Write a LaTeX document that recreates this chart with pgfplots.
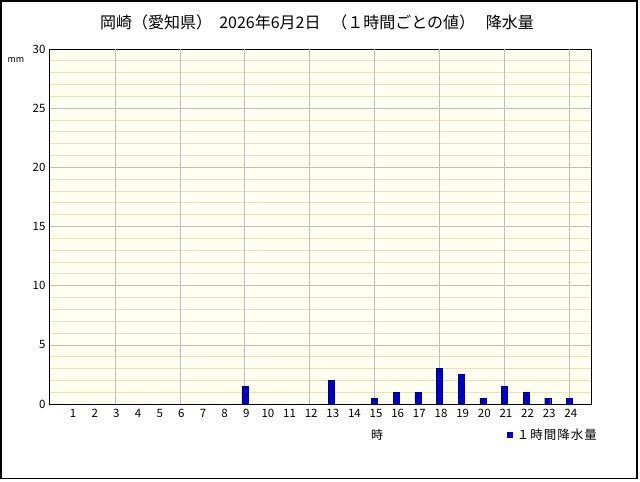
\documentclass[border=0pt]{standalone}
\usepackage{pgfplots}
\pgfplotsset{compat=1.18}
\usepackage{fontspec}
\setmainfont{Noto Sans CJK JP}
\definecolor{barblue}{RGB}{0,0,205}
\definecolor{baredge}{RGB}{0,0,120}
\definecolor{bgcream}{RGB}{255,255,240}
\definecolor{minorg}{RGB}{230,224,196}
\definecolor{majorg}{RGB}{190,190,190}
\begin{document}
\begin{tikzpicture}
\begin{axis}[
  at={(0pt,0pt)}, anchor=south west,
  width=541pt, height=355pt, scale only axis,
  xmin=0, xmax=25, ymin=0, ymax=30,
  xtick={1,...,24},
  ytick={0,5,...,30},
  minor y tick num=4,
  ymajorgrids, yminorgrids,
  major grid style={majorg, line width=0.6pt},
  minor grid style={minorg, line width=0.7pt},
  extra x ticks={3,6,...,24},
  extra x tick labels={},
  extra x tick style={grid=major, major tick length=0pt},
  major tick length=0pt, minor tick length=0pt,
  axis line style={black, line width=1pt},
  axis background/.style={fill=bgcream},
  tick label style={font=\fontsize{11.5}{13}\selectfont},
  /pgf/number format/assume math mode=true,
  xticklabel style={yshift=-2pt, xshift=1.5pt},
  yticklabel style={xshift=-1pt},
  legend style={at={(1.015,-0.087)}, anchor=east, draw=none, fill=none,
    font=\fontsize{12.5}{14}\selectfont, inner sep=0pt},
  legend image code/.code={\fill[barblue] (0pt,-2.5pt) rectangle (5pt,2.5pt);},
]
\addplot[ybar, bar width=6pt, fill=barblue, draw=baredge, line width=0.4pt]
coordinates {
(1,0) (2,0) (3,0) (4,0) (5,0) (6,0) (7,0) (8,0) (9,1.5) (10,0) (11,0) (12,0)
(13,2) (14,0) (15,0.5) (16,1) (17,1) (18,3) (19,2.5) (20,0.5) (21,1.5) (22,1) (23,0.5) (24,0.5)
};
\addlegendentry{\,１\kern1pt 時\kern1pt 間\kern1pt 降\kern1pt 水\kern1pt 量}
\end{axis}
\begin{scope}[x=1pt,y=1pt,shift={(-50pt,-78pt)}]
\path[use as bounding box] (0,0) rectangle (640,482);
\draw[line width=1.4pt] (1,3.5) rectangle (637,481);
\node[font=\fontsize{16}{18}\selectfont] at (317,460) {岡崎（愛知県）\ \ 2026年6月2日\ \ \ （１時間ごとの値）\ \ \ 降水量};
\node[font=\fontsize{9}{10}\selectfont] at (16,422) {mm};
\node[font=\fontsize{12}{13}\selectfont] at (377,47) {時};
\end{scope}
\end{tikzpicture}
\end{document}
